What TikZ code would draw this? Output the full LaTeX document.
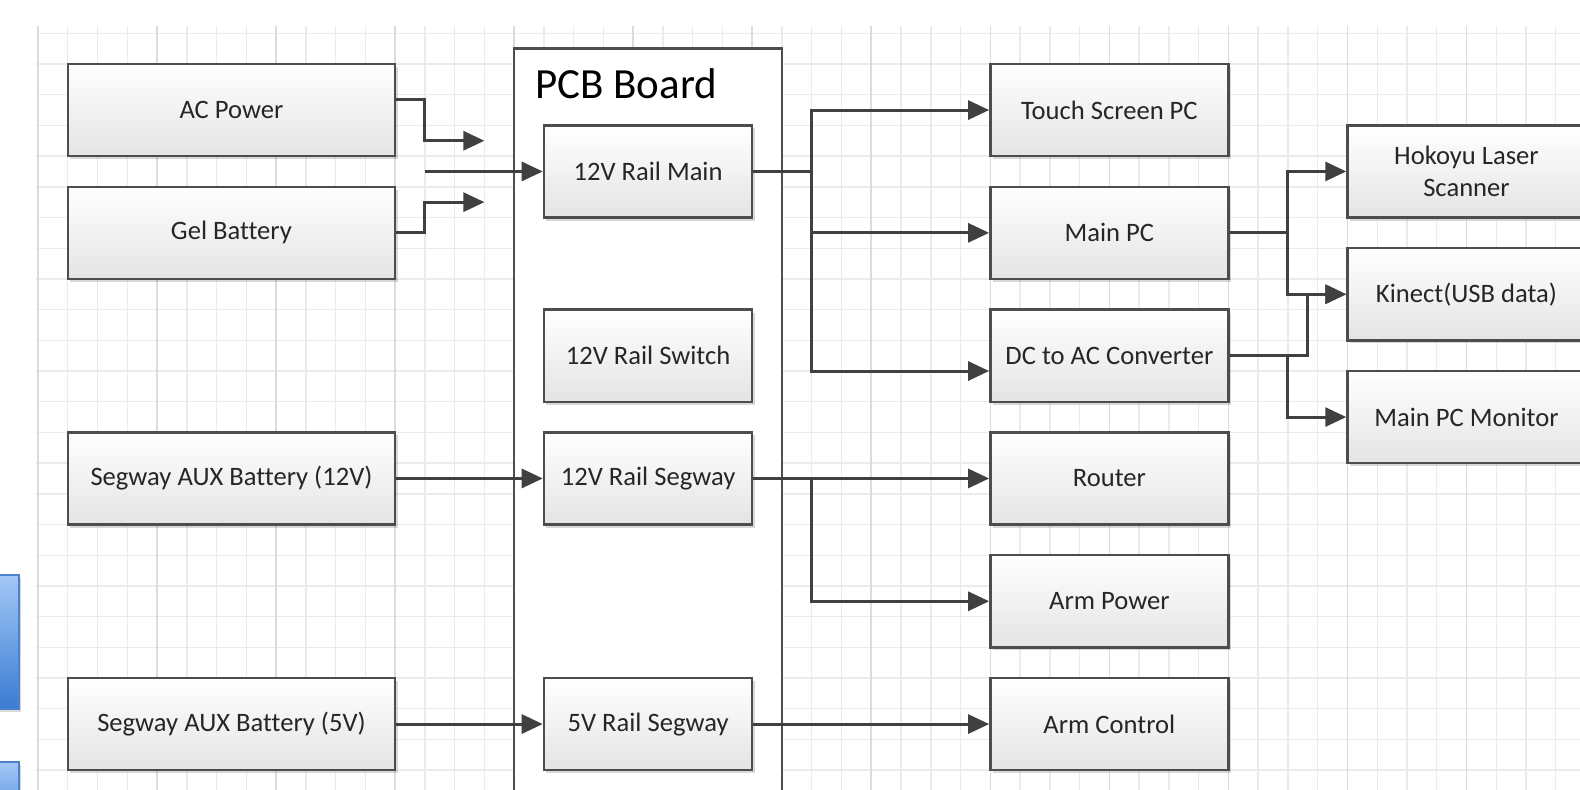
\documentclass[tikz,border=0pt]{standalone}
\usepackage{fontspec}
\setmainfont{Carlito}[Ligatures=NoCommon]
\usetikzlibrary{arrows.meta,shadows}
\definecolor{gridminor}{HTML}{EBEBEB}
\definecolor{gridmajor}{HTML}{DCDCDC}
\definecolor{edgecol}{HTML}{4D4D4D}
\definecolor{wirecol}{HTML}{404040}
\definecolor{boxbot}{HTML}{E4E4E4}
\definecolor{txtcol}{HTML}{262626}
\definecolor{bluetop}{HTML}{A3C8F7}
\definecolor{bluebot}{HTML}{3A7BD2}
\definecolor{blueedge}{HTML}{4C82CC}
\tikzset{
  blk/.style={draw=edgecol, line width=2.4pt, top color=white, bottom color=boxbot,
    inner sep=0pt, align=center, text=txtcol, font=\fontsize{26.6}{32}\selectfont,
    drop shadow={shadow xshift=2.5pt, shadow yshift=-3pt, opacity=0.25, fill=black!60}},
  lblk/.style={blk, minimum width=327.36pt, minimum height=92.1pt},
  mblk/.style={blk, minimum width=208.32pt, minimum height=92.1pt},
  rblk/.style={blk, minimum width=238.08pt, minimum height=92.1pt},
  conn/.style={draw=wirecol, line width=3pt, -{Triangle[length=21pt,width=19pt]}},
  plain/.style={draw=wirecol, line width=3pt},
  bluebox/.style={draw=blueedge, line width=1.5pt, top color=bluetop, bottom color=bluebot,
    drop shadow={shadow xshift=2pt, shadow yshift=-3pt, opacity=0.25, fill=black!60}}
}
\begin{document}
\begin{tikzpicture}[x=1pt,y=-1pt]
\useasboundingbox (0,0) rectangle (1580,790);
\clip (0,0) rectangle (1580,790);
\fill[white] (0,0) rectangle (1580,790);
% grid
\foreach \k in {-1,...,23} {
  \draw[gridminor, line width=1.4pt] (36,64+30.7*\k) -- (1580,64+30.7*\k);
}
\foreach \k in {0,...,52} {
  \pgfmathtruncatemacro{\m}{mod(\k,4)}
  \ifnum\m=0
    \draw[gridmajor, line width=1.6pt] (38+29.76*\k,26) -- (38+29.76*\k,790);
  \else
    \draw[gridminor, line width=1.4pt] (38+29.76*\k,26) -- (38+29.76*\k,790);
  \fi
}
% blue shapes at left edge
\path[bluebox] (-20,575) rectangle (19,709);
\path[bluebox] (-20,762) rectangle (19,840);
% PCB board
\node[draw=edgecol, line width=2.4pt, fill=white, minimum width=267.84pt, minimum height=800pt, inner sep=0pt] (pcb) at (648.08,448.65) {};
\node[anchor=base west, font=\fontsize{43}{50}\selectfont, text=black, inner sep=0pt] (pcbt) at (535,98) {PCB Board};
% left column
\node[lblk] (ac) at (231.44,110.05) {AC Power};
\node[lblk] (gel) at (231.44,232.85) {Gel Battery};
\node[lblk] (seg12) at (231.44,478.45) {Segway AUX Battery (12V)};
\node[lblk] (seg5) at (231.44,724.05) {Segway AUX Battery (5V)};
% rails
\node[mblk] (rmain) at (648.08,171.45) {12V Rail Main};
\node[mblk] (rswitch) at (648.08,355.65) {12V Rail Switch};
\node[mblk] (rseg) at (648.08,478.45) {12V Rail Segway};
\node[mblk] (r5) at (648.08,724.05) {5V Rail Segway};
% loads
\node[rblk] (touch) at (1109.36,110.05) {Touch Screen PC};
\node[rblk] (mainpc) at (1109.36,232.85) {Main PC};
\node[rblk] (dcac) at (1109.36,355.65) {DC to AC Converter};
\node[rblk] (router) at (1109.36,478.45) {Router};
\node[rblk] (armp) at (1109.36,601.25) {Arm Power};
\node[rblk] (armc) at (1109.36,724.05) {Arm Control};
% far right
\node[rblk] (hok) at (1466.48,171.45) {Hokoyu Laser\\Scanner};
\node[rblk] (kin) at (1466.48,294.25) {Kinect(USB data)};
\node[rblk] (mon) at (1466.48,417.05) {Main PC Monitor};
% coordinates
\coordinate (acin) at (484.4,140.75);
\coordinate (gelin) at (484.4,202.15);
\coordinate (busin) at (424.88,171.45);
\coordinate (j1) at (811.76,171.45);
\coordinate (j2) at (1287.92,232.85);
\coordinate (j3) at (1307,355.65);
\coordinate (j4) at (1287.92,355.65);
\coordinate (j5) at (811.76,478.45);
% connectors
\draw[conn] ([yshift=11pt]ac.east) -| (acin -| busin) -- (acin);
\draw[conn] (gel.east) -| (gelin -| busin) -- (gelin);
\draw[conn] (busin) -- (rmain.west);
\draw[plain] (rmain.east) -- (j1);
\draw[conn] (j1) |- (touch.west);
\draw[conn] (j1) |- (mainpc.west);
\draw[conn] (j1) |- ([yshift=-15.35pt]dcac.west);
\draw[plain] (mainpc.east) -- (j2);
\draw[conn] (j2) |- (hok.west);
\draw[conn] (j2) |- (kin.west);
\draw[conn] (dcac.east) -- (j3) |- (kin.west);
\draw[conn] (j4) |- (mon.west);
\draw[conn] (seg12.east) -- (rseg.west);
\draw[conn] (rseg.east) -- (router.west);
\draw[conn] (j5) |- (armp.west);
\draw[conn] (seg5.east) -- (r5.west);
\draw[conn] (r5.east) -- (armc.west);
\end{tikzpicture}
\end{document}
